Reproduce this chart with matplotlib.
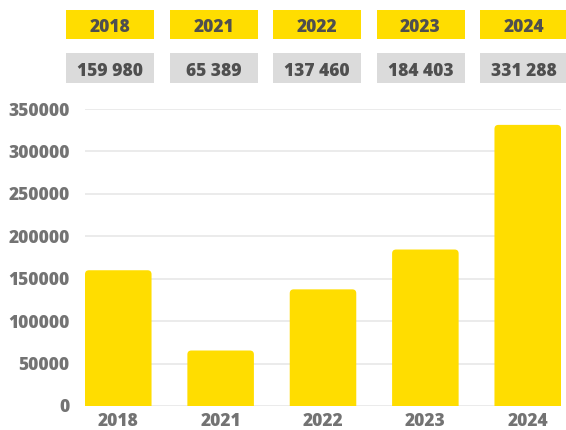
import matplotlib
matplotlib.use("Agg")
import matplotlib.pyplot as plt
from matplotlib.patches import Rectangle, FancyBboxPatch

years = ["2018", "2021", "2022", "2023", "2024"]
values = [159980, 65389, 137460, 184403, 331288]
value_labels = ["159 980", "65 389", "137 460", "184 403", "331 288"]
y_ticks = [0, 50000, 100000, 150000, 200000, 250000, 300000, 350000]

YELLOW = "#FFDD00"
GREY_BOX = "#DBDBDB"
DARK_TEXT = "#4F4F4F"
TICK_TEXT = "#737373"
GRID = "#E8E8E8"

plt.rcParams["font.family"] = ["Open Sans", "DejaVu Sans"]
plt.rcParams["font.weight"] = 800

W, H = 566, 430
fig = plt.figure(figsize=(W / 100, H / 100), dpi=100)
ax = fig.add_axes([85 / W, 1 - 406 / H, (561 - 85) / W, (406 - 109) / H])

bar_w = 0.65
ax.set_xlim(-bar_w / 2, len(years) - 1 + bar_w / 2)
ax.set_ylim(0, 350000)

# bars with softly rounded tops
bars = ax.bar(range(len(years)), values, width=bar_w, color="none")
px_x = (len(years) - 1 + bar_w) / (561 - 85)
px_y = 350000 / (406 - 109)
r = 4 * px_x
for b in bars:
    x0, h = b.get_x(), b.get_height()
    p = FancyBboxPatch((x0, -10 * px_y), b.get_width(), h + 10 * px_y,
                       boxstyle=f"round,pad=0,rounding_size={r}",
                       mutation_aspect=px_y / px_x,
                       facecolor=YELLOW, edgecolor="none", zorder=3)
    ax.add_patch(p)
    p.set_clip_path(ax.patch)

ax.set_yticks(y_ticks)
ax.set_yticklabels([str(v) for v in y_ticks])
ax.set_xticks(range(len(years)))
ax.set_xticklabels(years)
for lbl in ax.get_xticklabels() + ax.get_yticklabels():
    lbl.set_fontweight(800)
ax.tick_params(axis="both", length=0, labelsize=12.5, labelcolor=TICK_TEXT)
ax.tick_params(axis="y", pad=11)
ax.tick_params(axis="x", pad=5)
ax.grid(axis="y", color=GRID, linewidth=1.2, zorder=0)
ax.set_axisbelow(True)
for s in ax.spines.values():
    s.set_visible(False)

# header table: year row and value row
box_w, pitch, left = 88, 103.5, 66
for i, (yr, lab) in enumerate(zip(years, value_labels)):
    x0 = left + i * pitch
    fig.patches.append(Rectangle((x0 / W, 1 - 39 / H), box_w / W, 29 / H,
                                 transform=fig.transFigure, facecolor=YELLOW,
                                 edgecolor="none"))
    fig.patches.append(Rectangle((x0 / W, 1 - 83 / H), box_w / W, 30 / H,
                                 transform=fig.transFigure, facecolor=GREY_BOX,
                                 edgecolor="none"))
    fig.text((x0 + box_w / 2) / W, 1 - 32.3 / H, yr, ha="center", va="baseline",
             fontsize=12.5, fontweight=800, color=DARK_TEXT)
    fig.text((x0 + box_w / 2) / W, 1 - 76 / H, lab, ha="center", va="baseline",
             fontsize=12.5, fontweight=800, color=DARK_TEXT)

fig.savefig("out.png", dpi=100)
